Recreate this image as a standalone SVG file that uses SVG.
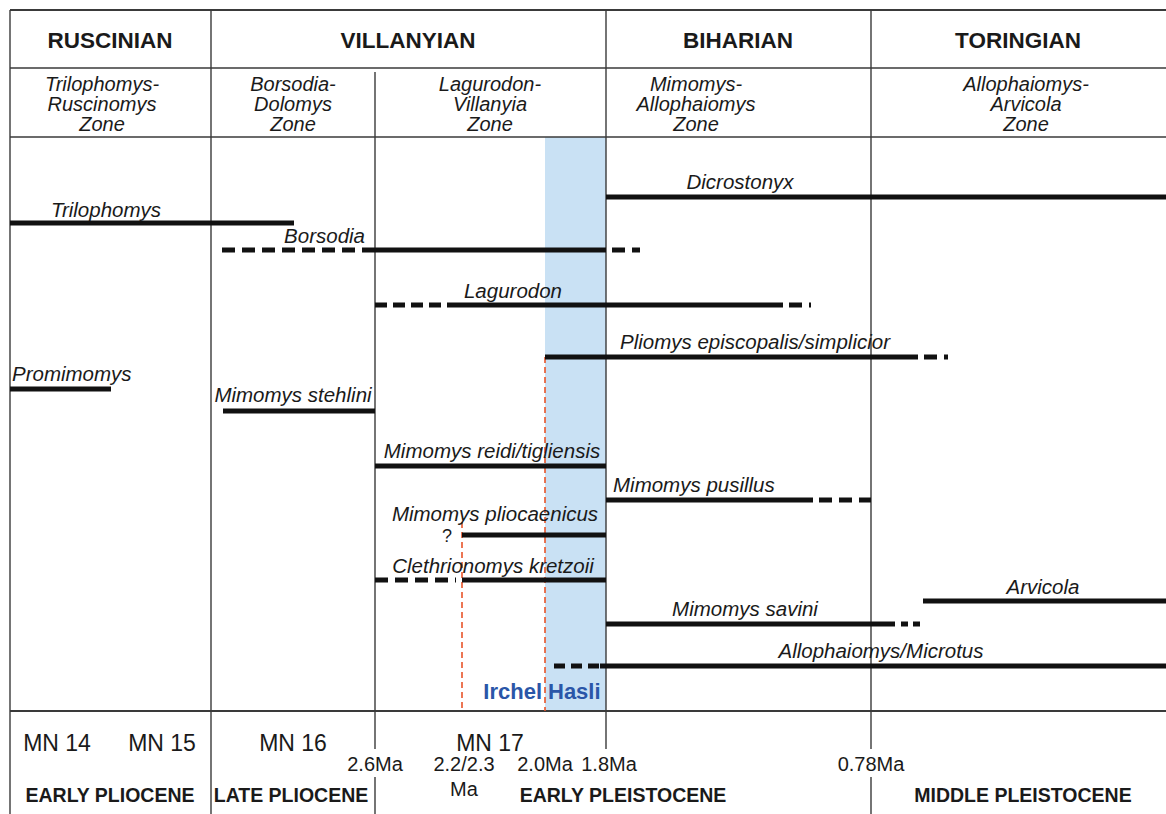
<svg xmlns="http://www.w3.org/2000/svg" width="1166" height="814" viewBox="0 0 1166 814">
<style>
.frame{stroke:#3a3a3a;stroke-width:1.4;fill:none}
.bar{stroke:#111;stroke-width:5;fill:none}
.dash{stroke:#111;stroke-width:5;fill:none;stroke-dasharray:13 7}
.red{stroke:#e8542a;stroke-width:1.6;stroke-dasharray:6 4;fill:none}
.hd{font-family:"Liberation Sans",Arial,sans-serif;font-weight:bold;font-size:22.5px;fill:#1a1a1a;text-anchor:middle}
.zn{font-family:"Liberation Sans",Arial,sans-serif;font-style:italic;font-size:20px;fill:#1a1a1a;text-anchor:middle}
.tx{font-family:"Liberation Sans",Arial,sans-serif;font-style:italic;font-size:20.5px;fill:#1a1a1a}
.mn{font-family:"Liberation Sans",Arial,sans-serif;font-size:23px;fill:#1a1a1a;text-anchor:middle}
.age{font-family:"Liberation Sans",Arial,sans-serif;font-size:20px;fill:#1a1a1a;text-anchor:middle}
.ep{font-family:"Liberation Sans",Arial,sans-serif;font-weight:bold;font-size:19.5px;fill:#1a1a1a;text-anchor:middle}
.site{font-family:"Liberation Sans",Arial,sans-serif;font-weight:bold;font-size:22px;fill:#2a56a8}
</style>
<rect width="1166" height="814" fill="#fff"/>
<g id="band"><rect x="545" y="137" width="61" height="574" fill="#c9e1f4"/></g>
<g id="frame">
<line class="frame" x1="10" y1="10" x2="1166" y2="10" style="stroke-width:2"/>
<line class="frame" x1="10" y1="68" x2="1166" y2="68"/>
<line class="frame" x1="10" y1="137" x2="1166" y2="137"/>
<line class="frame" x1="10" y1="711" x2="1166" y2="711" style="stroke-width:2"/>
<line class="frame" x1="10" y1="10" x2="10" y2="814"/>
<line class="frame" x1="211" y1="10" x2="211" y2="814"/>
<line class="frame" x1="375" y1="72" x2="375" y2="749"/>
<line class="frame" x1="375" y1="777" x2="375" y2="814"/>
<line class="frame" x1="606" y1="10" x2="606" y2="749"/>
<line class="frame" x1="871" y1="10" x2="871" y2="749"/>
<line class="frame" x1="871" y1="777" x2="871" y2="814"/>
</g>
<g id="redlines">
<line class="red" x1="462" y1="522" x2="462" y2="711"/>
<line class="red" x1="545" y1="357" x2="545" y2="711"/>
</g>
<g id="headers">
<text class="hd" x="110" y="48">RUSCINIAN</text>
<text class="hd" x="408" y="48">VILLANYIAN</text>
<text class="hd" x="738" y="48">BIHARIAN</text>
<text class="hd" x="1018" y="48">TORINGIAN</text>
</g>
<g id="zones">
<text class="zn" x="102" y="91">Trilophomys-</text><text class="zn" x="102" y="111">Ruscinomys</text><text class="zn" x="102" y="131">Zone</text>
<text class="zn" x="293" y="91">Borsodia-</text><text class="zn" x="293" y="111">Dolomys</text><text class="zn" x="293" y="131">Zone</text>
<text class="zn" x="490" y="91">Lagurodon-</text><text class="zn" x="490" y="111">Villanyia</text><text class="zn" x="490" y="131">Zone</text>
<text class="zn" x="696" y="91">Mimomys-</text><text class="zn" x="696" y="111">Allophaiomys</text><text class="zn" x="696" y="131">Zone</text>
<text class="zn" x="1026" y="91">Allophaiomys-</text><text class="zn" x="1026" y="111">Arvicola</text><text class="zn" x="1026" y="131">Zone</text>
</g>
<g id="connectors">
<line class="bar" x1="606" y1="197" x2="1166" y2="197"/>
<line class="bar" x1="10" y1="223" x2="294" y2="223"/>
<line class="dash" x1="222" y1="250" x2="370" y2="250"/>
<line class="bar" x1="370" y1="250" x2="606" y2="250"/>
<line class="dash" x1="612" y1="250" x2="640" y2="250"/>
<line class="dash" x1="375" y1="305" x2="441" y2="305" style="stroke-dasharray:12 6"/>
<line class="bar" x1="447" y1="305" x2="783" y2="305"/>
<line class="dash" x1="789" y1="305" x2="811" y2="305"/>
<line class="bar" x1="545" y1="357" x2="918" y2="357"/>
<line class="dash" x1="924" y1="357" x2="948" y2="357"/>
<line class="bar" x1="10" y1="389" x2="111" y2="389"/>
<line class="bar" x1="223" y1="411" x2="375" y2="411"/>
<line class="bar" x1="375" y1="466" x2="606" y2="466"/>
<line class="bar" x1="606" y1="500" x2="813" y2="500"/>
<line class="dash" x1="819" y1="500" x2="871" y2="500"/>
<line class="bar" x1="462" y1="535" x2="606" y2="535"/>
<line class="dash" x1="375" y1="580" x2="456" y2="580"/>
<line class="bar" x1="462" y1="580" x2="606" y2="580"/>
<line class="bar" x1="923" y1="601" x2="1166" y2="601"/>
<line class="bar" x1="606" y1="624" x2="895" y2="624"/>
<line class="dash" x1="901" y1="624" x2="920" y2="624" style="stroke-dasharray:7 5"/>
<line class="dash" x1="554" y1="666" x2="600" y2="666" style="stroke-dasharray:11 6"/>
<line class="bar" x1="600" y1="666" x2="1166" y2="666"/>
</g>
<g id="taxa">
<text class="tx" x="740" y="189" text-anchor="middle">Dicrostonyx</text>
<text class="tx" x="106" y="217" text-anchor="middle">Trilophomys</text>
<text class="tx" x="365" y="243" text-anchor="end">Borsodia</text>
<text class="tx" x="513" y="298" text-anchor="middle">Lagurodon</text>
<text class="tx" x="755" y="349" text-anchor="middle">Pliomys episcopalis/simplicior</text>
<text class="tx" x="12" y="381">Promimomys</text>
<text class="tx" x="293" y="402" text-anchor="middle">Mimomys stehlini</text>
<text class="tx" x="492" y="458" text-anchor="middle">Mimomys reidi/tigliensis</text>
<text class="tx" x="613" y="492">Mimomys pusillus</text>
<text class="tx" x="495" y="521" text-anchor="middle">Mimomys pliocaenicus</text>
<text class="tx" x="447" y="542" text-anchor="middle" style="font-style:normal;font-size:18px">?</text>
<text class="tx" x="493" y="573" text-anchor="middle">Clethrionomys kretzoii</text>
<text class="tx" x="1043" y="594" text-anchor="middle">Arvicola</text>
<text class="tx" x="745" y="616" text-anchor="middle">Mimomys savini</text>
<text class="tx" x="881" y="658" text-anchor="middle">Allophaiomys/Microtus</text>
</g>
<g id="sites">
<text class="site" x="542" y="699" text-anchor="end">Irchel</text>
<text class="site" x="548" y="699">Hasli</text>
</g>
<g id="bottom">
<text class="mn" x="57" y="751">MN 14</text>
<text class="mn" x="162" y="751">MN 15</text>
<text class="mn" x="293" y="751">MN 16</text>
<text class="mn" x="490" y="751">MN 17</text>
<text class="age" x="375" y="771">2.6Ma</text>
<text class="age" x="464" y="771">2.2/2.3</text>
<text class="age" x="464" y="796">Ma</text>
<text class="age" x="545" y="771">2.0Ma</text>
<text class="age" x="609" y="771">1.8Ma</text>
<text class="age" x="871" y="771">0.78Ma</text>
<text class="ep" x="110" y="802">EARLY PLIOCENE</text>
<text class="ep" x="291" y="802">LATE PLIOCENE</text>
<text class="ep" x="623" y="802">EARLY PLEISTOCENE</text>
<text class="ep" x="1023" y="802">MIDDLE PLEISTOCENE</text>
</g>
</svg>
